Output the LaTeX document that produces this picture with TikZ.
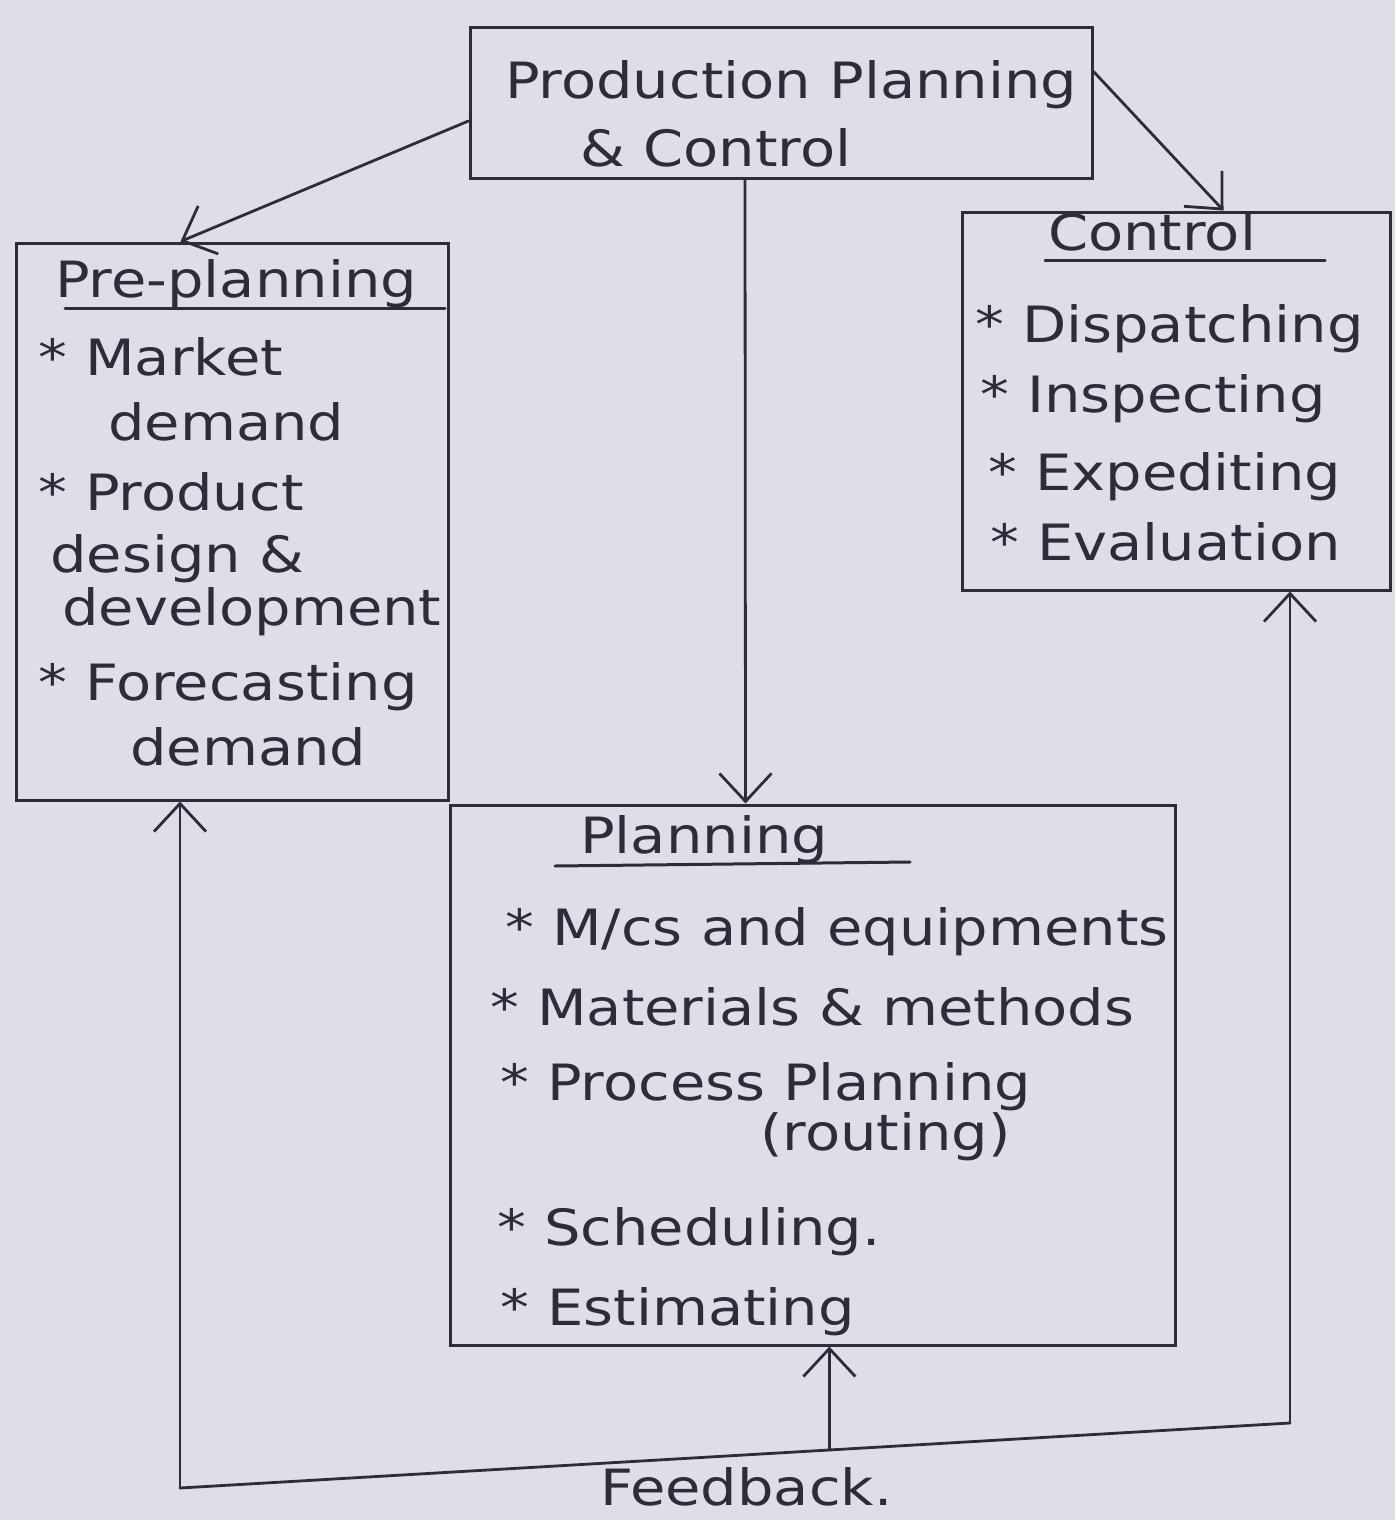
\documentclass[tikz,border=0pt]{standalone}
\usepackage{fontspec}
\setmainfont{DejaVu Sans}[FakeStretch=1.15]
\usetikzlibrary{arrows.meta,calc}
\definecolor{paper}{RGB}{222,222,232}
\definecolor{ink}{RGB}{45,45,58}
\tikzset{
  boxshape/.style={draw=ink, line width=3pt, rectangle, inner sep=0pt},
  txt/.style={anchor=base west, inner sep=0pt, text=ink, font=\fontsize{50}{54}\selectfont},
  ttl/.style={txt},
  uline/.style={draw=ink, line width=3pt, line cap=round},
  conn/.style={draw=ink, line width=2.8pt, line cap=round},
  arr/.style={conn, -{Straight Barb[length=28pt,width=52pt,line width=2.8pt]}}
}
\begin{document}
\begin{tikzpicture}[x=1pt,y=-1pt]
\fill[paper] (0,0) rectangle (1395,1520);
\useasboundingbox (0,0) rectangle (1395,1520);

% boxes
\node[boxshape, minimum width=622pt, minimum height=150pt] (ppc) at (781,103) {};
\node[boxshape, minimum width=432pt, minimum height=557pt] (pre) at (232,521.5) {};
\node[boxshape, minimum width=428pt, minimum height=378pt] (ctl) at (1176,401) {};
\node[boxshape, minimum width=725pt, minimum height=540pt] (pln) at (812.5,1075) {};

% top box text
\node[ttl] (t1) at (505,98) {Production Planning};
\node[ttl] (t2) at (580,166) {\& Control};

% pre-planning
\node[ttl] (pret) at (55,297) {Pre-planning};
\coordinate (preu1) at (65,308);
\coordinate (preu2) at (445,308);
\draw[uline] (preu1) -- (preu2);
\node[txt] (pa1) at (38,375) {* Market};
\node[txt] (pa2) at (108,440) {demand};
\node[txt] (pb1) at (38,510) {* Product};
\node[txt] (pb2) at (50,572) {design \&};
\node[txt] (pb3) at (62,625) {development};
\node[txt] (pc1) at (38,700) {* Forecasting};
\node[txt] (pc2) at (130,765) {demand};

% control
\node[ttl] (ctlt) at (1048,250) {Control};
\coordinate (ctu1) at (1045,260);
\coordinate (ctu2) at (1325,260);
\draw[uline] (ctu1) -- (ctu2);
\node[txt] (c1) at (975,342) {* Dispatching};
\node[txt] (c2) at (980,412) {* Inspecting};
\node[txt] (c3) at (988,490) {* Expediting};
\node[txt] (c4) at (990,560) {* Evaluation};

% planning
\node[ttl] (plnt) at (580,853) {Planning};
\coordinate (plu1) at (555,866);
\coordinate (plu2) at (910,862);
\draw[uline] (plu1) -- (plu2);
\node[txt] (q1) at (505,945) {* M/cs and equipments};
\node[txt] (q2) at (490,1025) {* Materials \& methods};
\node[txt] (q3) at (500,1100) {* Process Planning};
\node[txt] (q3b) at (760,1150) {(routing)};
\node[txt] (q4) at (497,1245) {* Scheduling.};
\node[txt] (q5) at (500,1325) {* Estimating};

% connectors from top box
\draw[arr] ([yshift=-18pt]ppc.west) -- ([xshift=166pt]pre.north west);
\draw[arr] ([yshift=-45pt]ppc.north east) -- ([xshift=263pt]ctl.north west);
\draw[arr] ([xshift=-36pt]ppc.south) -- ([xshift=-67pt]pln.north);

% feedback loop
\coordinate (fbl) at (180,1488);
\coordinate (fbr) at (1290,1423);
\draw[conn] (fbl) -- (fbr);
\draw[arr] (fbl) -- (fbl |- pre.south);
\draw[arr] (fbr) -- (fbr |- ctl.south);
\coordinate (fbm) at ($(fbl)!0.585!(fbr)$);
\draw[arr] (fbm) -- (fbm |- pln.south);
\node[txt] (fbt) at (600,1505) {Feedback.};
\end{tikzpicture}
\end{document}
